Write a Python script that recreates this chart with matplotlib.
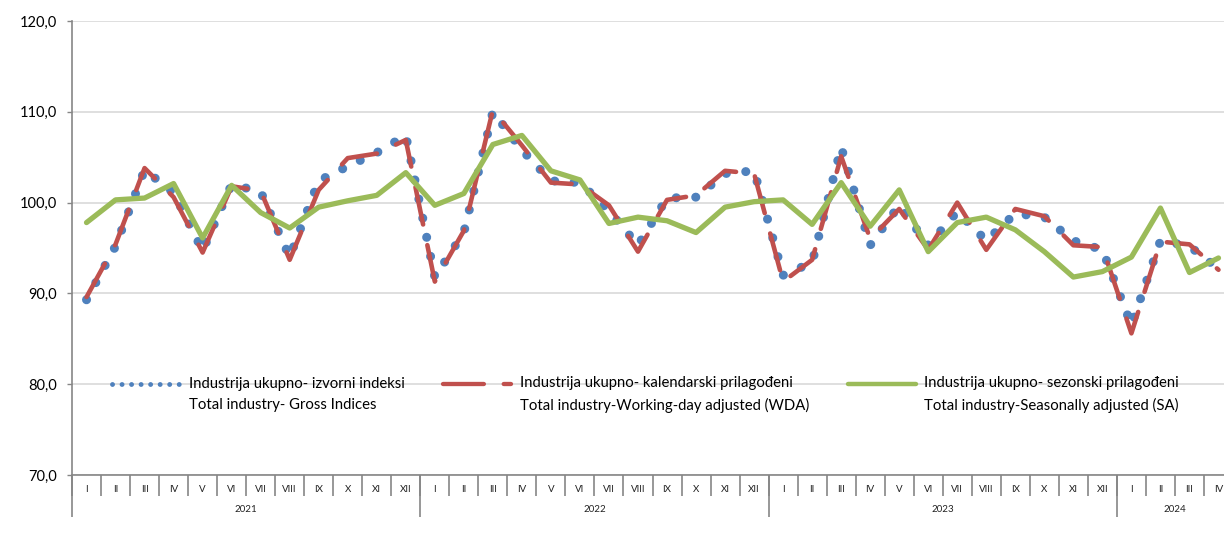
import numpy as np
import matplotlib
matplotlib.use("Agg")
import matplotlib.pyplot as plt
import matplotlib.transforms as mtransforms
from matplotlib.lines import Line2D
from matplotlib.legend_handler import HandlerLine2D

# monthly indices, Jan 2021 - Apr 2024
years = ["2021", "2022", "2023", "2024"]
months_per_year = [12, 12, 12, 4]
roman = ["I", "II", "III", "IV", "V", "VI", "VII", "VIII", "IX", "X", "XI", "XII"]

gross = [89.3, 95.2, 103.6, 101.1, 94.7, 102.0, 101.2, 94.0, 102.4, 104.0, 105.5, 107.4,
         91.8, 96.7, 110.0, 105.8, 102.4, 102.2, 99.1, 95.3, 100.5, 100.6, 103.2, 103.5,
         92.0, 93.4, 106.1, 95.3, 99.7, 95.3, 99.0, 95.8, 98.8, 98.4, 95.8, 94.8,
         86.5, 95.8, 95.2, 92.7]
wda = [89.6, 95.4, 103.8, 100.6, 94.5, 101.8, 101.3, 93.7, 101.4, 104.9, 105.4, 106.9,
       91.3, 96.9, 110.2, 106.3, 102.2, 102.0, 99.7, 94.6, 100.3, 100.8, 103.5, 103.2,
       91.3, 93.7, 105.1, 96.0, 99.3, 94.8, 100.0, 94.8, 99.3, 98.5, 95.3, 95.1,
       85.6, 95.7, 95.4, 92.6]
sa = [97.8, 100.3, 100.5, 102.1, 96.1, 101.9, 98.9, 97.2, 99.5, 100.2, 100.8, 103.3,
      99.7, 101.0, 106.4, 107.4, 103.5, 102.5, 97.7, 98.4, 98.0, 96.7, 99.5, 100.1,
      100.3, 97.6, 102.2, 97.4, 101.4, 94.6, 97.8, 98.4, 97.0, 94.6, 91.8, 92.4,
      94.0, 99.4, 92.3, 93.9]

labels = [
    "Industrija ukupno- izvorni indeksi\nTotal industry- Gross Indices",
    "Industrija ukupno- kalendarski prilagođeni\nTotal industry-Working-day adjusted (WDA)",
    "Industrija ukupno- sezonski prilagođeni\nTotal industry-Seasonally adjusted (SA)",
]

BLUE = "#4F81BD"
RED = "#C0504D"
GREEN = "#9BBB59"
AXIS = "#868686"
GRID = "#D9D9D9"

plt.rcParams["font.family"] = ["Lato", "DejaVu Sans"]


class FirstLineHandler(HandlerLine2D):
    """legend handle aligned with first line of a two-line label"""
    def __init__(self, shift=7.0, **kw):
        super().__init__(**kw)
        self.shift = shift

    def create_artists(self, legend, orig_handle, xdescent, ydescent, width,
                       height, fontsize, trans):
        arts = super().create_artists(legend, orig_handle, xdescent, ydescent,
                                      width, height, fontsize, trans)
        for a in arts:
            a.set_ydata(np.asarray(a.get_ydata()) + self.shift)
        return arts


n = len(gross)
x = np.arange(n)

fig = plt.figure(figsize=(12.24, 5.49), dpi=100)
ax = fig.add_axes([72 / 1224, 74 / 549, 1161 / 1224, 454 / 549])

ax.plot(x, gross, color=BLUE, lw=6.5, linestyle=(0, (0.01, 2.15)),
        dash_capstyle="round", solid_capstyle="round", zorder=3)
ax.plot(x, wda, color=RED, lw=3.3, linestyle=(0, (8.3, 4.6)),
        dash_capstyle="round", dash_joinstyle="round", zorder=4)
ax.plot(x, sa, color=GREEN, lw=3.8, solid_joinstyle="round",
        solid_capstyle="round", zorder=5)

ax.set_xlim(-0.5, n - 0.5)
ax.set_ylim(70, 120)
yt = np.arange(70, 121, 10)
ax.set_yticks(yt, [f"{v:.1f}".replace(".", ",") for v in yt])
ax.yaxis.grid(True, color=GRID, lw=1.2)
ax.set_axisbelow(True)

for s in ["top", "right"]:
    ax.spines[s].set_visible(False)
for s in ["left", "bottom"]:
    ax.spines[s].set_color(AXIS)
    ax.spines[s].set_linewidth(1.2)

ax.tick_params(axis="y", length=3.6, width=1.0, color=AXIS, pad=7,
               labelsize=10.5, labelcolor="black")

# month labels and boundaries
month_labels = [roman[m] for k in months_per_year for m in range(k)]
ax.set_xticks(x, month_labels)
ax.set_xticks(np.arange(n + 1) - 0.5, minor=True)
ax.tick_params(axis="x", which="major", length=0, pad=7, labelsize=7,
               labelcolor="#222222")
ax.tick_params(axis="x", which="minor", length=15, width=1.2, color=AXIS)

# year level of category axis
trans = mtransforms.blended_transform_factory(ax.transData, ax.transAxes)
bounds = np.concatenate([[0], np.cumsum(months_per_year)]) - 0.5
ax.vlines(bounds[:-1], 0, -42 / 454, transform=trans, color=AXIS, lw=1.2,
          clip_on=False)
for yr, a, b in zip(years, bounds[:-1], bounds[1:]):
    ax.text((a + b) / 2, -35 / 454, yr, transform=trans, ha="center",
            va="center", fontsize=7, color="#222222")

# legend
handles = [
    Line2D([], [], color=BLUE, lw=3.5, linestyle=(0, (0.01, 1.95)),
           dash_capstyle="round"),
    Line2D([], [], color=RED, lw=3.1, linestyle=(0, (9.5, 4.6)),
           dash_capstyle="round"),
    Line2D([], [], color=GREEN, lw=3.2, solid_capstyle="round"),
]
leg = ax.legend(handles, labels, ncol=3, loc="center left",
                bbox_to_anchor=(0.0345, 0.177), frameon=False, fontsize=10.7,
                handlelength=4.6, handletextpad=0.55, columnspacing=2.6,
                borderpad=0, borderaxespad=0,
                handler_map={h: FirstLineHandler(shift=7.6) for h in handles})
for t in leg.get_texts():
    t.set_linespacing(1.62)

fig.savefig("out.png", dpi=100)
